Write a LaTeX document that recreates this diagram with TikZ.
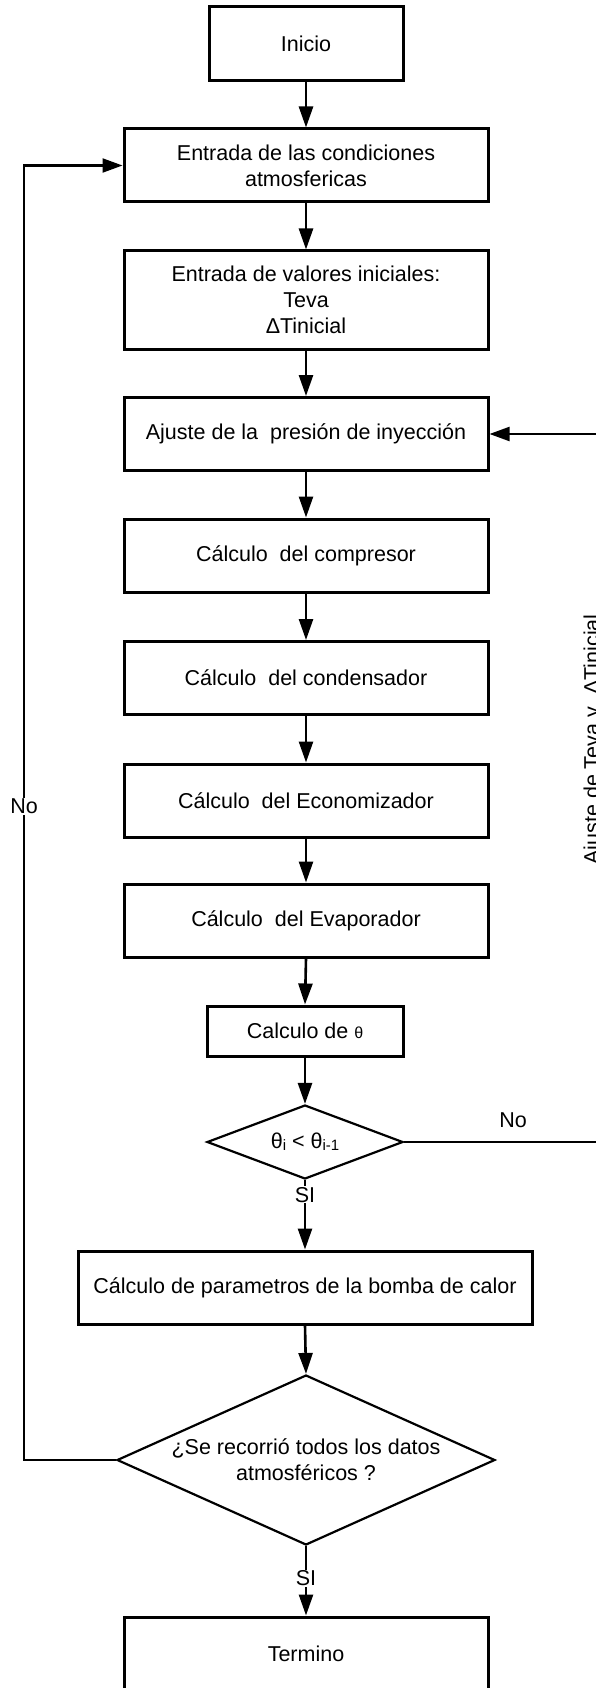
\documentclass[tikz,border=0pt]{standalone}
\usepackage{fontspec}
\setmainfont{Liberation Sans}
\usetikzlibrary{arrows.meta,shapes.geometric}
\begin{document}
\begin{tikzpicture}[x=1pt,y=-1pt,
  font=\fontsize{21.5}{26}\selectfont,
  box/.style={draw, line width=3pt, minimum width=364pt, minimum height=73pt,
              inner sep=0pt, align=center},
  decision/.style={draw, diamond, line width=2.2pt, inner sep=0pt},
  flow/.style={line width=2.6pt, -{Triangle[length=21pt,width=14pt]}},
  loopline/.style={line width=2.2pt, -{Triangle[length=20pt,width=14pt]}},
  tag/.style={fill=white, inner sep=1pt}]
\useasboundingbox (0,0) rectangle (596,1688);
\clip (0,0) rectangle (596,1688);

% process boxes
\node[box, minimum width=194pt, minimum height=74pt] (inicio) at (306,44) {Inicio};
\node[box] (cond) at (306,165.5) {Entrada de las condiciones\\atmosfericas};
\node[box, minimum height=98pt] (vals) at (306,300) {Entrada de valores iniciales:\\Teva\\ΔTinicial};
\node[box] (ajuste) at (306,434) {Ajuste de la~~presión de inyección};
\node[box] (comp) at (306,555.5) {Cálculo~~del compresor};
\node[box] (condens) at (306,678) {Cálculo~~del condensador};
\node[box] (econ) at (306,800.5) {Cálculo~~del Economizador};
\node[box] (evap) at (306,920.5) {Cálculo~~del Evaporador};
\node[box, minimum width=196pt, minimum height=50pt] (theta) at (305,1031)
  {Calculo de {\fontsize{16}{16}\selectfont θ}};
\node[decision, minimum width=196pt, minimum height=74pt,
  label={center:θ\raisebox{-2pt}{\fontsize{15}{15}\selectfont i} < θ\raisebox{-2pt}{\fontsize{15}{15}\selectfont i-1}}]
  (dec1) at (305,1142) {};
\node[box, minimum width=454pt, minimum height=73pt] (param) at (305,1287.5)
  {Cálculo de parametros de la bomba de calor};
\node[decision, minimum width=378pt, minimum height=170pt,
  label={[align=center]center:{¿Se recorrió todos los datos\\atmosféricos ?}}]
  (dec2) at (306,1460) {};
\node[box, minimum height=74pt] (fin) at (306,1654) {Termino};

% main flow
\draw[flow] (inicio.south) -- (cond.north);
\draw[flow] (cond.south) -- (vals.north);
\draw[flow] (vals.south) -- (ajuste.north);
\draw[flow] (ajuste.south) -- (comp.north);
\draw[flow] (comp.south) -- (condens.north);
\draw[flow] (condens.south) -- (econ.north);
\draw[flow] (econ.south) -- (evap.north);
\draw[flow] (evap.south) -- (theta.north);
\draw[flow] (theta.south) -- (dec1.north);
\draw[flow] (dec1.south) -- node[tag, pos=0.21] {SI} (param.north);
\draw[flow] (param.south) -- (dec2.north);
\draw[flow] (dec2.south) -- node[tag, pos=0.465] {SI} (fin.north);

% return loop to the atmospheric data input
\coordinate (L) at (24,0);
\draw[loopline] (dec2.west) -- (dec2.west -| L)
  -- node[tag, pos=0.505] {No} (cond.west -| L) -- (cond.west);

% return loop to the injection pressure adjustment
\coordinate (R) at (615,0);
\node (nolab) at (513,1120) {No};
\draw[loopline] (dec1.east) -- (dec1.east -| R) -- (ajuste.east -| R) -- (ajuste.east);
\node[rotate=90, anchor=base, inner sep=0pt] (ajlabel) at (599,739.5)
  {Ajuste de Teva y~~ΔTinicial};
\end{tikzpicture}
\end{document}
